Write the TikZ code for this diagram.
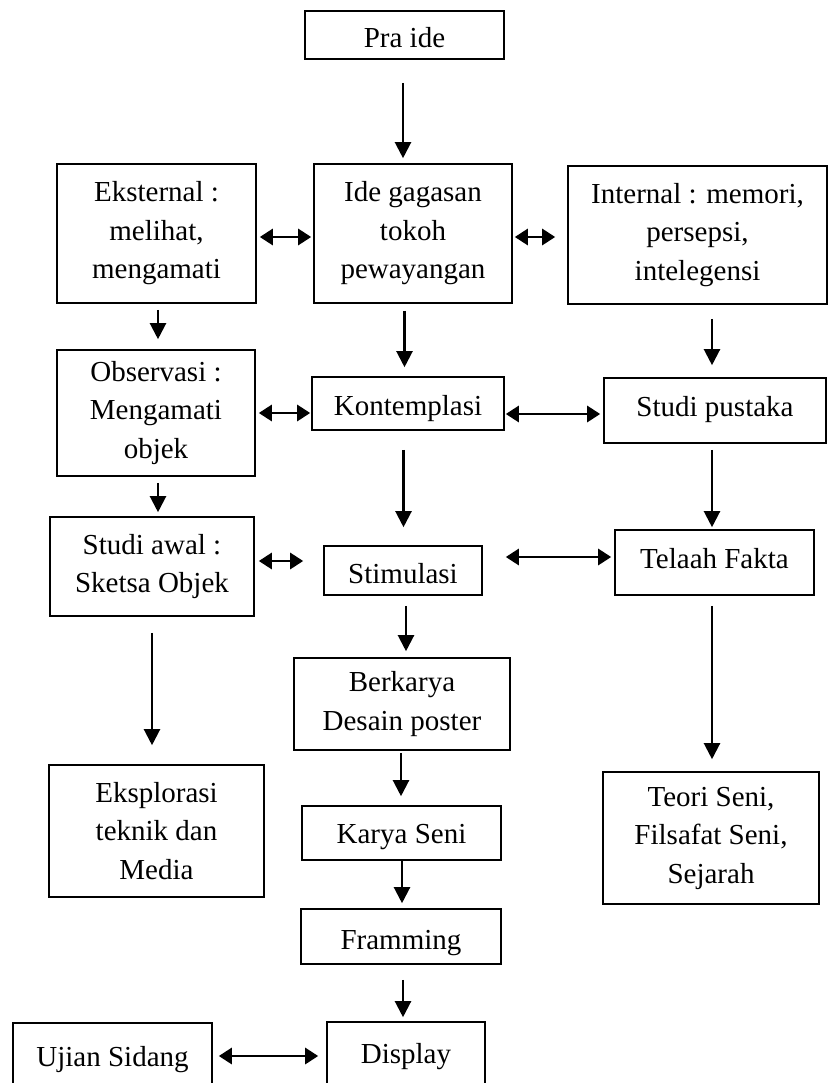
\documentclass[tikz,border=0pt]{standalone}
\usepackage{fontspec}
\setmainfont{Liberation Serif}
\usetikzlibrary{arrows.meta}
\begin{document}
\begin{tikzpicture}[x=1pt,y=-1pt,
  box/.style={draw,line width=1.6pt,align=center,inner sep=0pt,font=\fontsize{29}{38.5}\selectfont},
  arr/.style={line width=2.2pt,-{Triangle[length=16pt,width=16pt]}},
  darr/.style={line width=2.8pt,{Triangle[length=13pt,width=16pt]}-{Triangle[length=13pt,width=16pt]}}]
\useasboundingbox (0,0) rectangle (829,1083);
\clip (0,0) rectangle (829,1083);
\fill[white] (0,0) rectangle (829,1083);
% boxes
\node[box,text height=26pt,text depth=0pt,minimum width=199pt,minimum height=48pt] (praide) at (404.5,35) {Pra ide};
\node[box,minimum width=199pt,minimum height=139pt] (eks) at (156.5,233.5) {Eksternal :\\melihat,\\mengamati};
\node[box,minimum width=198pt,minimum height=139pt] (ide) at (413,233.5) {Ide gagasan\\tokoh\\pewayangan};
\node[box,minimum width=259pt,minimum height=138pt] (int) at (697.5,235) {Internal : memori,\\persepsi,\\intelegensi};
\node[box,minimum width=198pt,minimum height=126pt] (obs) at (156,413) {Observasi :\\Mengamati\\objek};
\node[box,text height=24.5pt,text depth=1.5pt,minimum width=192pt,minimum height=53pt] (kont) at (408,403.5) {Kontemplasi};
\node[box,text height=18.5pt,text depth=7.5pt,minimum width=222pt,minimum height=65pt] (stp) at (715,410.5) {Studi pustaka};
\node[box,minimum width=204pt,minimum height=99pt] (awal) at (152,566.5) {Studi awal :\\Sketsa Objek};
\node[box,text height=25.5pt,text depth=0.5pt,minimum width=158pt,minimum height=49pt] (stim) at (403,570.5) {Stimulasi};
\node[box,text height=18.5pt,text depth=7.5pt,minimum width=199pt,minimum height=65pt] (tel) at (714.5,562.5) {Telaah Fakta};
\node[box,minimum width=216pt,minimum height=92pt] (berk) at (402,704) {Berkarya\\Desain poster};
\node[box,minimum width=215pt,minimum height=132pt] (eksp) at (156.5,831) {Eksplorasi\\teknik dan\\Media};
\node[box,minimum width=216pt,minimum height=132pt] (teori) at (711,838) {Teori Seni,\\Filsafat Seni,\\Sejarah};
\node[box,text height=23pt,text depth=3pt,minimum width=199pt,minimum height=54pt] (karya) at (401.5,833) {Karya Seni};
\node[box,text height=25.5pt,text depth=0.5pt,minimum width=200pt,minimum height=55pt] (fram) at (401,936.5) {Framming};
\node[box,text height=23pt,text depth=3pt,minimum width=199pt,minimum height=66pt] (ujian) at (112.5,1056) {Ujian Sidang};
\node[box,text height=20pt,text depth=6pt,minimum width=158pt,minimum height=68pt] (disp) at (406,1056) {Display};
% connectors
\draw[arr] ([shift={(-1.5,23)}]praide.south) -- ([shift={(-10,-5)}]ide.north);
\draw[darr] ([shift={(3,3.5)}]eks.east) -- ([shift={(-2,3.5)}]ide.west);
\draw[darr] ([shift={(2,3.5)}]ide.east) -- ([shift={(-12,2)}]int.west);
\draw[arr] ([shift={(1.5,6)}]eks.south) -- ([shift={(2,-10)}]obs.north);
\draw[arr] ([shift={(-8.5,7)}]ide.south) -- ([shift={(-3.5,-9)}]kont.north);
\draw[arr] ([shift={(14.5,14)}]int.south) -- ([shift={(-3,-12)}]stp.north);
\draw[darr] ([shift={(3,0)}]obs.east) -- ([shift={(-1,9.5)}]kont.west);
\draw[darr] ([shift={(1,10.5)}]kont.east) -- ([shift={(-3,3.5)}]stp.west);
\draw[arr] ([shift={(2,6)}]obs.south) -- ([shift={(6,-4)}]awal.north);
\draw[arr] ([shift={(-4.5,19)}]kont.south) -- ([shift={(0.5,-18)}]stim.north);
\draw[arr] ([shift={(-3,6)}]stp.south) -- ([shift={(-2.5,-2)}]tel.north);
\draw[darr] ([shift={(4,-5.5)}]awal.east) -- ([shift={(-20,-9.5)}]stim.west);
\draw[darr] ([shift={(23,-13.5)}]stim.east) -- ([shift={(-3,-5.5)}]tel.west);
\draw[arr] ([shift={(3,10)}]stim.south) -- ([shift={(4,-6)}]berk.north);
\draw[arr] ([shift={(0,16)}]awal.south) -- ([shift={(-4.5,-19)}]eksp.north);
\draw[arr] ([shift={(-2.5,10)}]tel.south) -- ([shift={(1,-12)}]teori.north);
\draw[arr] ([shift={(-1,2)}]berk.south) -- ([shift={(-0.5,-9)}]karya.north);
\draw[arr] ([shift={(0.5,0)}]karya.south) -- ([shift={(1,-5)}]fram.north);
\draw[arr] ([shift={(2,15)}]fram.south) -- ([shift={(-3,-4)}]disp.north);
\draw[darr] ([shift={(6,0)}]ujian.east) -- ([shift={(-8,0)}]disp.west);
\end{tikzpicture}
\end{document}
